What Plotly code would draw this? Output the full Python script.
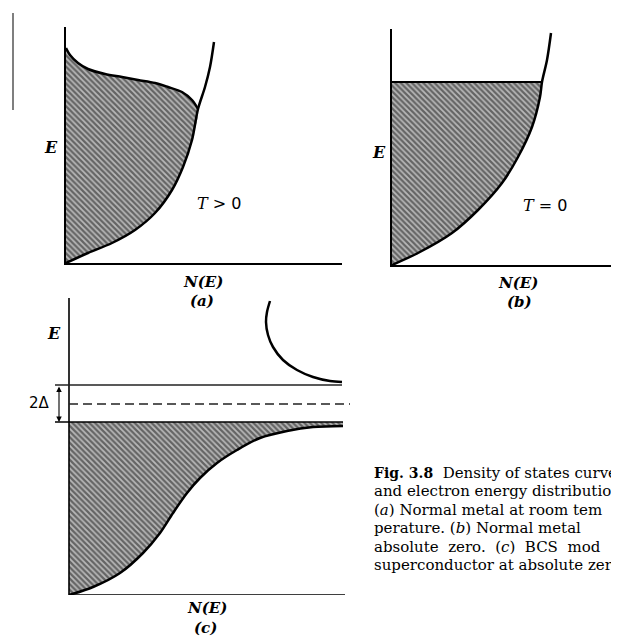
import plotly.graph_objects as go

W, H = 619, 637          # browser window
OFF = 8                  # the page's default body margin
FW, FH = W - OFF, H - OFF

# ---------------- data (arbitrary units) ----------------
# Panel (a): normal metal, T > 0  -- density of states and occupied states
dosA_N = [0, 22, 46, 69, 89, 106, 117, 126, 132, 139, 144, 148]
dosA_E = [0, 10, 20, 33, 50, 73, 96, 123, 154, 176, 196, 221]
occA_N = [0, 4, 12, 22, 39, 56, 72, 89, 102, 116, 126, 132]
occA_E = [215, 208, 200, 194, 189, 186, 183, 180, 176, 171, 163, 154]

# Panel (b): normal metal, T = 0
dosB_N = [0, 26, 60, 86, 110, 126, 140, 148, 150, 155, 159]
dosB_E = [0, 12, 32, 55, 82, 108, 138, 168, 183, 205, 232]
fermiB_E = 183

# Panel (c): BCS superconductor at T = 0
occC_N = [0, 24, 51, 74, 91, 104, 118, 131, 148, 168, 191, 218, 244, 274]
occC_E = [0, 8, 22, 42, 62, 82, 102, 117, 132, 145, 157, 164, 168, 169]
upC_N = [201, 198, 197, 199, 204, 214, 228, 244, 261, 273]
upC_E = [294, 283, 273, 260, 248, 235, 225, 218, 214, 213]
gap_top, gap_mid, gap_bot = 210, 191, 173

caption_lines = [
    "<span style='font-size:14px'><b>Fig. 3.8</b></span>  Density of states curve",
    "and electron energy distributio",
    "(<i>a</i>) Normal metal at room tem",
    "perature. (<i>b</i>) Normal metal",
    "absolute  zero.  (<i>c</i>)  BCS  mod",
    "superconductor at absolute zer",
]

# ---------------- helpers ----------------
def px_x(p):
    return (p - OFF) / FW

def px_y(p):
    return 1 - (p - OFF) / FH

SERIF = "DejaVu Serif"
SANS = "DejaVu Sans"
hatch = dict(shape="\\", size=4, solidity=0.55, fgcolor="#101010", bgcolor="#b8b8b8")
CURVE = dict(color="black", width=2.5, shape="spline", smoothing=0.9)

fig = go.Figure()

# ---- panel (a)
fa_N = dosA_N[:9] + occA_N[::-1][1:]
fa_E = dosA_E[:9] + occA_E[::-1][1:]
fig.add_trace(go.Scatter(x=fa_N, y=fa_E, mode="lines", fill="tozerox",
                         fillpattern=hatch, line=dict(width=0, shape="spline", smoothing=0.9),
                         xaxis="x", yaxis="y", hoverinfo="skip"))
fig.add_trace(go.Scatter(x=dosA_N, y=dosA_E, mode="lines", line=CURVE, xaxis="x", yaxis="y"))
fig.add_trace(go.Scatter(x=occA_N, y=occA_E, mode="lines", line=CURVE, xaxis="x", yaxis="y"))

# ---- panel (b)
fig.add_trace(go.Scatter(x=dosB_N[:9], y=dosB_E[:9], mode="lines", fill="tozerox",
                         fillpattern=hatch, line=dict(width=0, shape="spline", smoothing=0.9),
                         xaxis="x2", yaxis="y2", hoverinfo="skip"))
fig.add_trace(go.Scatter(x=dosB_N, y=dosB_E, mode="lines", line=CURVE, xaxis="x2", yaxis="y2"))
fig.add_trace(go.Scatter(x=[0, dosB_N[8]], y=[fermiB_E, fermiB_E], mode="lines",
                         line=dict(color="black", width=2), xaxis="x2", yaxis="y2"))

# ---- panel (c)
fc_N = occC_N + [occC_N[-1]]
fc_E = occC_E + [gap_bot]
fig.add_trace(go.Scatter(x=fc_N, y=fc_E, mode="lines", fill="tozerox",
                         fillpattern=hatch, line=dict(width=0),
                         xaxis="x3", yaxis="y3", hoverinfo="skip"))
fig.add_trace(go.Scatter(x=occC_N, y=occC_E, mode="lines", line=CURVE, xaxis="x3", yaxis="y3"))
fig.add_trace(go.Scatter(x=upC_N, y=upC_E, mode="lines", line=CURVE, xaxis="x3", yaxis="y3"))
# axes of panel (c)
fig.add_trace(go.Scatter(x=[0, 0, 276], y=[297, 0, 0], mode="lines",
                         line=dict(color="black", width=1.6), xaxis="x3", yaxis="y3"))
# gap levels
fig.add_trace(go.Scatter(x=[-14, 273], y=[gap_top, gap_top], mode="lines",
                         line=dict(color="#222", width=1.3), xaxis="x3", yaxis="y3"))
fig.add_trace(go.Scatter(x=[0, 281], y=[gap_mid, gap_mid], mode="lines",
                         line=dict(color="#222", width=1.3, dash="9px,5px"), xaxis="x3", yaxis="y3"))
fig.add_trace(go.Scatter(x=[-14, 274], y=[gap_bot, gap_bot], mode="lines",
                         line=dict(color="black", width=1.6), xaxis="x3", yaxis="y3"))

axis_common = dict(showgrid=False, zeroline=False, showticklabels=False, ticks="",
                   fixedrange=True)
line_on = dict(showline=True, linecolor="black", linewidth=1.6)

fig.update_layout(
    width=FW, height=FH, margin=dict(l=0, r=0, t=0, b=0),
    paper_bgcolor="white", plot_bgcolor="rgba(0,0,0,0)", showlegend=False,
    xaxis=dict(domain=[px_x(66), px_x(342)], range=[0, 276], anchor="y", **axis_common, **line_on),
    yaxis=dict(domain=[px_y(263), px_y(27)], range=[0, 236], anchor="x", **axis_common, **line_on),
    xaxis2=dict(domain=[px_x(392), 1.0], range=[0, 227], anchor="y2", **axis_common, **line_on),
    yaxis2=dict(domain=[px_y(265), px_y(29)], range=[0, 236], anchor="x2", **axis_common, **line_on),
    xaxis3=dict(domain=[px_x(55), px_x(350)], range=[-14, 281], anchor="y3", **axis_common),
    yaxis3=dict(domain=[px_y(595), px_y(298)], range=[0, 297], anchor="x3", **axis_common),
)

# double arrow for 2Δ
fig.add_annotation(x=-10, y=gap_bot, ax=-10, ay=gap_top, xref="x3", yref="y3",
                   axref="x3", ayref="y3", text="", showarrow=True, arrowhead=2,
                   startarrowhead=2, arrowside="end+start", arrowwidth=1.1,
                   arrowsize=1, arrowcolor="black", standoff=0, startstandoff=0)

def label(text, x, y, size=15, family=SERIF, anchor="center"):
    fig.add_annotation(x=px_x(x), y=px_y(y), xref="paper", yref="paper", text=text,
                       showarrow=False, xanchor=anchor, yanchor="middle",
                       font=dict(family=family, size=size, color="black"))

label("<b><i>E</i></b>", 51, 147, size=16)
label("<b><i>E</i></b>", 379, 152, size=16)
label("<b><i>E</i></b>", 54, 333, size=16)
label("<i>T</i><span style='font-family:DejaVu Sans'> &gt; 0</span>", 219, 203, size=16)
label("<i>T</i><span style='font-family:DejaVu Sans'> = 0</span>", 545, 205, size=16)
label("<b><i>N(E)</i></b>", 203, 282)
label("<b><i>(a)</i></b>", 202, 301)
label("<b><i>N(E)</i></b>", 518, 283)
label("<b><i>(b)</i></b>", 519, 302)
label("<b><i>N(E)</i></b>", 207, 608)
label("<b><i>(c)</i></b>", 206, 628)
label("2Δ", 39, 403, size=15, family=SANS)

baselines = [478, 496.4, 514.8, 533.2, 551.6, 570]
for t, b in zip(caption_lines, baselines):
    label(t, 372, b - 5, size=15, family=SERIF, anchor="left")

# stray scan mark at the top-left edge of the page
fig.add_shape(type="line", xref="paper", yref="paper", x0=px_x(13), x1=px_x(13),
              y0=px_y(13), y1=px_y(110), line=dict(color="#555", width=1.5))

fig.write_html("out.html")
